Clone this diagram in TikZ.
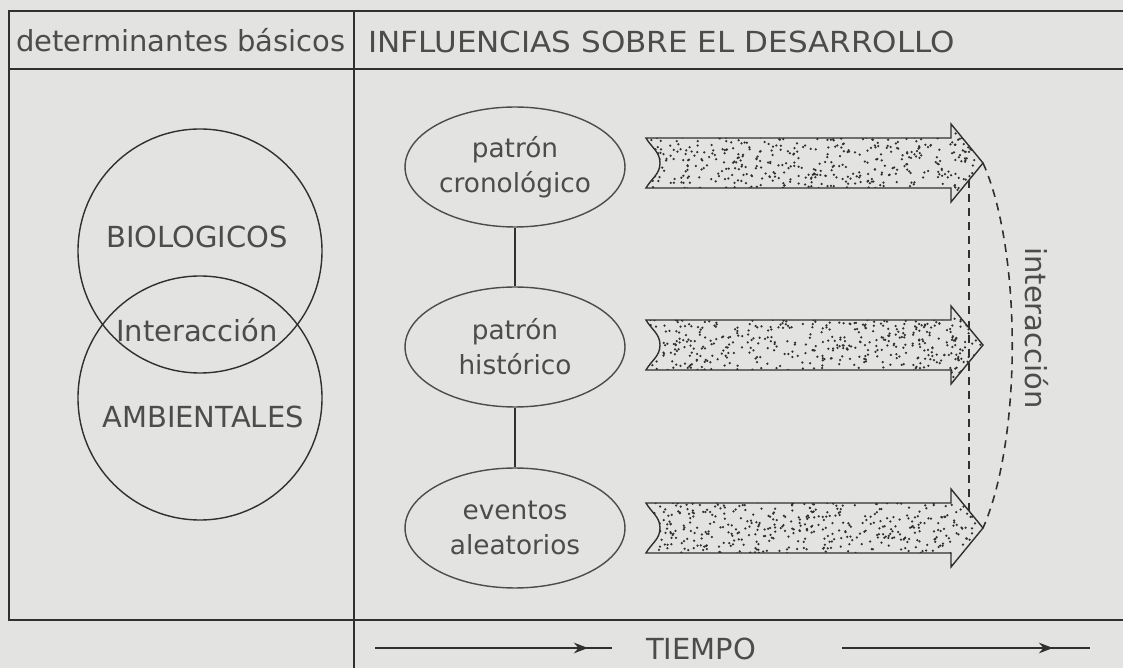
\documentclass[tikz,border=0pt]{standalone}
\usepackage{fontspec}
\setmainfont{DejaVu Sans}
\usetikzlibrary{shapes.geometric,arrows.meta,calc}
\definecolor{PBack}{HTML}{E3E3E1}
\definecolor{PInk}{HTML}{303030}
\definecolor{PText}{HTML}{4C4C4C}
\tikzset{
  rule/.style={PInk, line width=1pt},
  thinline/.style={PInk, line width=0.8pt},
  dashline/.style={PInk, line width=0.9pt, dash pattern=on 4.5pt off 3.5pt},
  lbl/.style={PText, font=\fontsize{16.5}{21.5}\selectfont, inner sep=0pt},
  patron/.style={ellipse, draw=PInk, line width=0.8pt, minimum width=4.4cm, minimum height=2.4cm,
    inner sep=0pt, align=center, PText, font=\fontsize{15}{20}\selectfont}
}

\begin{document}
\begin{tikzpicture}[x=0.02cm, y=-0.02cm]
        \fill[PBack] (0,0) rectangle (1123,668);
        \useasboundingbox (0,0) rectangle (1123,668);
        \draw[rule] (1123,11) -- (9,11) -- (9,620) -- (1123,620);
        \draw[rule] (9,69) -- (1123,69);
        \draw[rule] (354,11) -- (354,668);
        \node[lbl, anchor=base] (basicos) at (181,52) {determinantes básicos};
        \node[lbl, anchor=base west, xscale=1.07] (influencias) at (368,53) {INFLUENCIAS SOBRE EL DESARROLLO};

        \draw[thinline] (200,251) circle (122);
        \draw[thinline] (200,398) circle (122);
        \node[lbl] (bio) at (197,237) {BIOLOGICOS};
        \node[lbl] (interbio) at (197,330) {Interacción};
        \node[lbl] (amb) at (203,417) {AMBIENTALES};

        \node[patron] (cron) at (515,167) {patrón\\cronológico};
        \node[patron] (hist) at (515,347) {patrón\\histórico};
        \node[patron] (even) at (515,528) {eventos\\aleatorios};
        \draw[thinline] (cron) -- (hist) (hist) -- (even);

        \pgfmathsetseed{4127}
        \foreach \yc/\nm in {163/a,345/b,528/c}
        {
            \begin{scope}
                \clip (646,\yc-25) -- (951,\yc-25) -- (951,\yc-39) -- (983,\yc) -- (951,\yc+39) -- (951,\yc+25)
                    -- (646,\yc+25) to[out=60,in=-90] (660,\yc) to[out=90,in=-60] cycle;
                \foreach \k in {1,...,640}
                {
                    \fill[PInk] ({646+337*rnd},{\yc-39+78*rnd}) circle (1.25);
                }
            \end{scope}
            \draw[thinline, line join=miter] (646,\yc-25) -- (951,\yc-25) -- (951,\yc-39) -- (983,\yc) -- (951,\yc+39) -- (951,\yc+25)
                -- (646,\yc+25) to[out=60,in=-90] (660,\yc) to[out=90,in=-60] cycle;
            \coordinate (tip\nm) at (983,\yc);
        }
        \draw[dashline] (tipa) .. controls +(39,87) and +(39,-88) .. (tipc);
        \draw[dashline] ($(tipa)+(-14,17)$) -- ($(tipc)+(-14,-17)$);
        \node[lbl, rotate=-90] (interdes) at (1037,328) {interacción};

        \node[lbl, anchor=base] (tiempo) at (701,660) {TIEMPO};
        \coordinate (ta) at (375,648);
        \coordinate (tb) at (612,648);
        \coordinate (tc) at (842,648);
        \coordinate (td) at (1090,648);
        \draw[thinline, line width=1.2pt] (ta) -- (tb);
        \draw[thinline, line width=1.2pt, -{Stealth[length=8pt,width=6pt]}] (ta) -- ($(tb)+(-24,0)$);
        \draw[thinline, line width=1.2pt] (tc) -- (td);
        \draw[thinline, line width=1.2pt, -{Stealth[length=8pt,width=6pt]}] (tc) -- ($(td)+(-37,0)$);
\end{tikzpicture}
\end{document}
